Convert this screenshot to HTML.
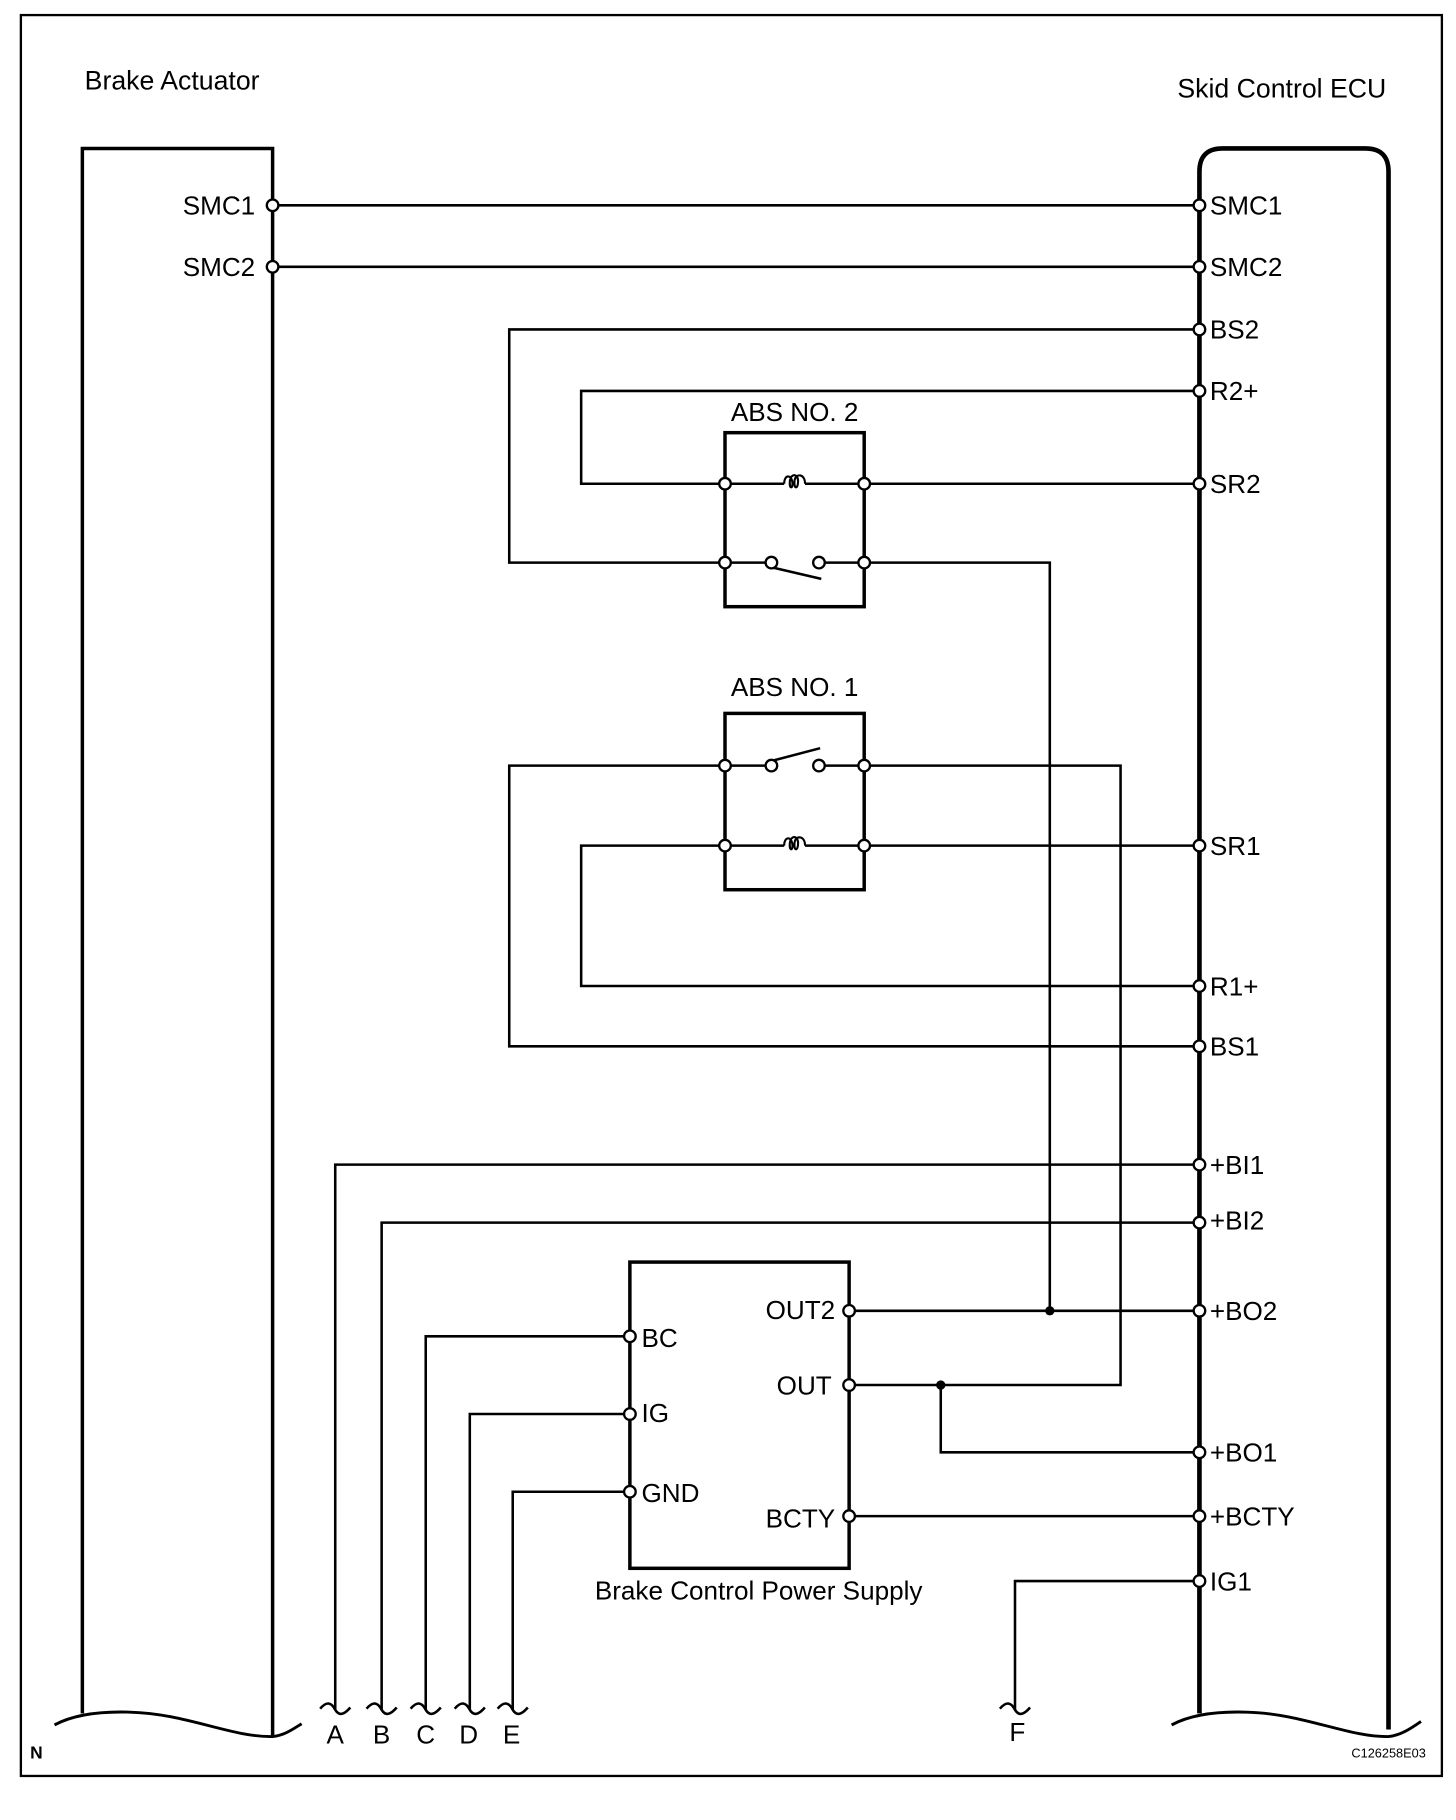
<!DOCTYPE html>
<html><head><meta charset="utf-8"><style>
html,body{margin:0;padding:0;background:#fff;}
svg{display:block;}
text{font-family:"Liberation Sans",Arial,sans-serif;fill:#000;}
</style></head><body>
<svg width="1456" height="1820" viewBox="0 0 1255.17 1568.97" xmlns="http://www.w3.org/2000/svg">
<rect x="18" y="13" width="1225" height="1518" fill="none" stroke="#000" stroke-width="2"/>
<text x="73" y="77" font-size="23">Brake Actuator</text>
<text x="1015" y="84" font-size="23">Skid Control ECU</text>
<text x="26" y="1516" font-size="15" font-weight="bold">N</text>
<text x="1165" y="1515" font-size="11">C126258E03</text>

<g fill="none" stroke="#000" stroke-width="3">
<path d="M71 1477 V128 H235 V1497"/>
<path d="M47 1487 C60 1480 80 1475 112 1476 C160 1477 200 1498 235 1497 C245 1496 252 1491 260 1486" stroke-width="2.5"/>
<path d="M1034 1477 V148 Q1034 128 1054 128 H1177 Q1197 128 1197 148 V1491" stroke-width="4"/>
<path d="M1010 1487 C1023 1480 1043 1475 1075 1476 C1123 1477 1163 1498 1197 1497 C1207 1496 1215 1491 1225 1484" stroke-width="2.5"/>
</g>

<g fill="none" stroke="#000" stroke-width="2.2">
<path d="M235 177 H1034"/>
<path d="M235 230 H1034"/>
<path d="M1034 284 H439 V485 H625"/>
<path d="M1034 337 H501 V417 H625"/>
<path d="M745 417 H1034"/>
<path d="M745 485 H905 V1130"/>
<path d="M625 660 H439 V902 H1034"/>
<path d="M745 660 H966 V1194 H732"/>
<path d="M625 729 H501 V850 H1034"/>
<path d="M745 729 H1034"/>
<path d="M1034 1004 H289 V1474"/>
<path d="M1034 1054 H329 V1474"/>
<path d="M732 1130 H1034"/>
<path d="M811 1194 V1252 H1034"/>
<path d="M732 1307 H1034"/>
<path d="M543 1152 H367 V1474"/>
<path d="M543 1219 H405 V1474"/>
<path d="M543 1286 H442 V1474"/>
<path d="M1034 1363 H875 V1474"/>
<path d="M625 417 H676 M694 417 H745"/>
<path d="M625 485 H660 M711 485 H745"/>
<path d="M665 489 L708 499"/>
<path d="M625 660 H660 M711 660 H745"/>
<path d="M665 656 L707 645"/>
<path d="M625 729 H676 M694 729 H745"/>
<path d="M276 1473 C282 1466 286 1468 289 1474 C292 1479 296 1479 302 1472"/>
<path d="M316 1473 C322 1466 326 1468 329 1474 C332 1479 336 1479 342 1472"/>
<path d="M354 1473 C360 1466 364 1468 367 1474 C370 1479 374 1479 380 1472"/>
<path d="M392 1473 C398 1466 402 1468 405 1474 C408 1479 412 1479 418 1472"/>
<path d="M429 1473 C435 1466 439 1468 442 1474 C445 1479 449 1479 455 1472"/>
<path d="M862 1473 C868 1466 872 1468 875 1474 C878 1479 882 1479 888 1472"/>
</g>

<g fill="none" stroke="#000" stroke-width="1.8">
<path d="M676 417 C676 409 682 409 683 415 C684 422 680 422 681 414 C682 408 688 408 688 415 C688 422 684 422 685 414 C686 408 694 408 694 417"/>
<path d="M676 729 C676 721 682 721 683 727 C684 734 680 734 681 726 C682 720 688 720 688 727 C688 734 684 734 685 726 C686 720 694 720 694 729"/>
</g>

<g fill="none" stroke="#000" stroke-width="3">
<rect x="625" y="373" width="120" height="150"/>
<rect x="625" y="615" width="120" height="152"/>
<rect x="543" y="1088" width="189" height="264"/>
</g>

<g fill="#fff" stroke="#000" stroke-width="2">
<circle cx="235" cy="177" r="5"/><circle cx="235" cy="230" r="5"/>
<circle cx="1034" cy="177" r="5"/><circle cx="1034" cy="230" r="5"/>
<circle cx="1034" cy="284" r="5"/><circle cx="1034" cy="337" r="5"/>
<circle cx="1034" cy="417" r="5"/><circle cx="1034" cy="729" r="5"/>
<circle cx="1034" cy="850" r="5"/><circle cx="1034" cy="902" r="5"/>
<circle cx="1034" cy="1004" r="5"/><circle cx="1034" cy="1054" r="5"/>
<circle cx="1034" cy="1130" r="5"/><circle cx="1034" cy="1252" r="5"/>
<circle cx="1034" cy="1307" r="5"/><circle cx="1034" cy="1363" r="5"/>
<circle cx="625" cy="417" r="5"/><circle cx="745" cy="417" r="5"/>
<circle cx="625" cy="485" r="5"/><circle cx="745" cy="485" r="5"/>
<circle cx="665" cy="485" r="5"/><circle cx="706" cy="485" r="5"/>
<circle cx="625" cy="660" r="5"/><circle cx="745" cy="660" r="5"/>
<circle cx="665" cy="660" r="5"/><circle cx="706" cy="660" r="5"/>
<circle cx="625" cy="729" r="5"/><circle cx="745" cy="729" r="5"/>
<circle cx="732" cy="1130" r="5"/><circle cx="732" cy="1194" r="5"/>
<circle cx="732" cy="1307" r="5"/>
<circle cx="543" cy="1152" r="5"/><circle cx="543" cy="1219" r="5"/>
<circle cx="543" cy="1286" r="5"/>
</g>
<circle cx="905" cy="1130" r="4" fill="#000"/>
<circle cx="811" cy="1194" r="4" fill="#000"/>

<g font-size="22.5">
<text x="220" y="185" text-anchor="end">SMC1</text>
<text x="220" y="238" text-anchor="end">SMC2</text>
<text x="1043" y="185">SMC1</text>
<text x="1043" y="238">SMC2</text>
<text x="1043" y="292">BS2</text>
<text x="1043" y="345">R2+</text>
<text x="1043" y="425">SR2</text>
<text x="1043" y="737">SR1</text>
<text x="1043" y="858">R1+</text>
<text x="1043" y="910">BS1</text>
<text x="1043" y="1012">+BI1</text>
<text x="1043" y="1060">+BI2</text>
<text x="1043" y="1138">+BO2</text>
<text x="1043" y="1260">+BO1</text>
<text x="1043" y="1315">+BCTY</text>
<text x="1043" y="1371">IG1</text>
<text x="685" y="363" text-anchor="middle">ABS NO. 2</text>
<text x="685" y="600" text-anchor="middle">ABS NO. 1</text>
<text x="720" y="1137" text-anchor="end">OUT2</text>
<text x="717" y="1202" text-anchor="end">OUT</text>
<text x="720" y="1317" text-anchor="end">BCTY</text>
<text x="553" y="1161">BC</text>
<text x="553" y="1226">IG</text>
<text x="553" y="1295">GND</text>
<text x="654" y="1379" text-anchor="middle">Brake Control Power Supply</text>
<text x="289" y="1503" text-anchor="middle">A</text>
<text x="329" y="1503" text-anchor="middle">B</text>
<text x="367" y="1503" text-anchor="middle">C</text>
<text x="404" y="1503" text-anchor="middle">D</text>
<text x="441" y="1503" text-anchor="middle">E</text>
<text x="877" y="1501" text-anchor="middle">F</text>
</g>
</svg>
</body></html>
